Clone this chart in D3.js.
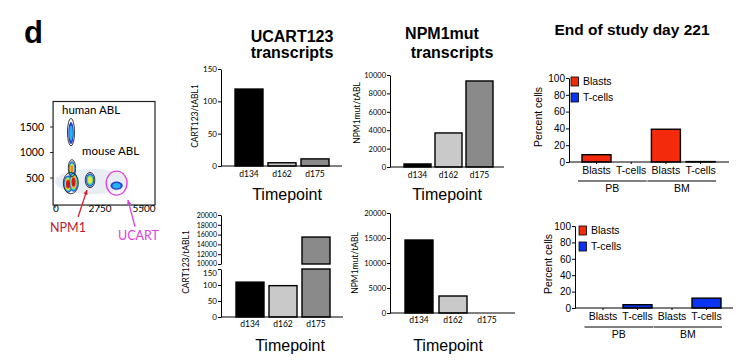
<!DOCTYPE html>
<html>
<head>
<meta charset="utf-8">
<script src="https://cdn.jsdelivr.net/npm/d3@7"></script>
<style>
    body { margin: 0; background: #fff; }
    svg text { font-family: "Liberation Sans", Arial, sans-serif; fill: #000; }
    svg .gill { font-family: Lato, "DejaVu Sans", sans-serif; }
    .axis path, .axis line { stroke: #000; }
</style>
</head>
<body>
<svg id="fig" width="744" height="361"></svg>
<script>
// ---- data ----
const timepoints = ["d134", "d162", "d175"];
const tpColors = ["#000000", "#c9c9c9", "#8a8a8a"];
const ucartTop = [119, 5, 11];
const npm1Top = [330, 3700, 9350];
const ucartBottom = [109, 98, 15500];
const npm1Bottom = [14600, 3400, 0];

const cellGroups = ["PB", "BM"];
const cellTypes = ["Blasts", "T-cells"];
const cellColors = ["#f42a0c", "#0b34f2"];
const day221A = [8.7, 0, 39, 0.5];
const day221B = [0, 4, 0, 12];

const flowXTicks = [0, 2750, 5500];
const flowYTicks = [500, 1000, 1500];
// cluster centres and spreads in data units, level = how far up the heat map
const flowClusters = [
    { x: 1000, y: 1380, sx: 170, sy: 220, level: 2 },
    { x: 1060, y: 680, sx: 200, sy: 150, level: 5 },
    { x: 820, y: 380, sx: 280, sy: 170, level: 6 },
    { x: 1160, y: 420, sx: 260, sy: 190, level: 6 },
    { x: 2190, y: 460, sx: 260, sy: 130, level: 4 },
    { x: 3850, y: 350, sx: 380, sy: 80, level: 2 }
];
const flowGates = [
    { x: 1000, y: 1400, rx: 220, ry: 270, color: "#222" },
    { x: 1060, y: 690, rx: 230, ry: 170, color: "#222" },
    { x: 990, y: 400, rx: 470, ry: 210, color: "#222" },
    { x: 2190, y: 460, rx: 300, ry: 150, color: "#222" },
    { x: 3850, y: 400, rx: 650, ry: 235, color: "#e040e0" }
];

const svg = d3.select("#fig");
svg.append("rect").attr("width", 744).attr("height", 361).attr("fill", "#fff");

// band scale from first bar start, step and bar width
function bandScale(domain, firstStart, step, width) {
    let pi = 1 - width / step;
    let po = 0.5;
    let r0 = firstStart - po * step;
    let r1 = r0 + step * (domain.length - pi + 2 * po);
    return d3.scaleBand().domain(domain).range([r0, r1]).paddingInner(pi).paddingOuter(po);
}

function yAxis(x0, yScale, ticks, cls, size) {
    let g = svg.append("g")
        .attr("class", "axis")
        .attr("transform", "translate(" + x0 + ",0)")
        .call(d3.axisLeft(yScale).tickValues(ticks).tickFormat(d3.format("d"))
            .tickSize(3).tickSizeOuter(0).tickPadding(1));
    g.selectAll("text").attr("class", cls).style("font-size", size + "px").attr("fill", "#000");
    return g;
}

function xLabels(y0, xScale, cls, size, pad, tickSize) {
    let g = svg.append("g")
        .attr("class", "axis")
        .attr("transform", "translate(0," + y0 + ")")
        .call(d3.axisBottom(xScale).tickSize(tickSize).tickPadding(pad));
    g.select(".domain").remove();
    g.selectAll("text").attr("class", cls).style("font-size", size + "px").attr("fill", "#000");
    return g;
}

function xLine(x0, x1, y0) {
    svg.append("line").attr("x1", x0).attr("x2", x1).attr("y1", y0).attr("y2", y0)
        .attr("stroke", "#000").attr("stroke-width", 1);
}

function bars(xScale, yScale, values, colors) {
    svg.append("g").selectAll("rect")
        .data(values)
        .join("rect")
        .attr("x", (d, i) => xScale(xScale.domain()[i]))
        .attr("width", xScale.bandwidth())
        .attr("y", d => yScale(d))
        .attr("height", d => yScale(0) - yScale(d))
        .attr("fill", (d, i) => colors[i])
        .attr("stroke", "#000")
        .attr("stroke-width", d => d > 0 ? 1.4 : 0.8);
}

function yTitle(text, x, y, cls, size) {
    svg.append("text")
        .attr("class", cls)
        .attr("transform", "translate(" + x + "," + y + ") rotate(-90)")
        .attr("text-anchor", "middle")
        .attr("dy", "0.35em")
        .style("font-size", size + "px")
        .text(text);
}

function label(text, x, y, size, weight, anchor) {
    return svg.append("text")
        .attr("x", x).attr("y", y)
        .attr("text-anchor", anchor || "middle")
        .style("font-size", size + "px")
        .style("font-weight", weight || "normal")
        .text(text);
}

// ---- panel letter ----
label("d", 24, 43, 31, "bold", "start");

// ---- titles ----
label("UCART123", 292, 42, 16, "bold");
label("transcripts", 292, 58, 16, "bold");
label("NPM1mut", 442, 39, 16, "bold");
label("transcripts", 452, 58, 16, "bold");
label("End of study day 221", 632, 35, 15.5, "bold");

// ---- UCART123 top ----
let xB1 = bandScale(timepoints, 235, 33, 28);
let yB1 = d3.scaleLinear().domain([0, 150]).range([166, 69]);
bars(xB1, yB1, ucartTop, tpColors);
yAxis(221, yB1, [0, 50, 100, 150], "gill", 8);
xLine(221, 342, 166);
xLabels(166, xB1, "gill", 8.5, 4.5, 0);
yTitle("CART123/tABL1", 195, 116, "gill", 8.5);
label("Timepoint", 287, 200, 16);

// ---- NPM1mut top ----
let xB2 = bandScale(timepoints, 404, 31, 27);
let yB2 = d3.scaleLinear().domain([0, 10000]).range([167, 75]);
bars(xB2, yB2, npm1Top, tpColors);
yAxis(390, yB2, d3.range(0, 10001, 2000), "gill", 7.5);
xLine(390, 504, 167);
xLabels(167, xB2, "gill", 8.5, 4.5, 0);
yTitle("NPM1mut/tABL", 357, 113, "gill", 8.5);
label("Timepoint", 447, 200, 16);

// ---- UCART123 bottom (broken axis) ----
let xB3 = bandScale(timepoints, 236, 33, 28);
let yB3low = d3.scaleLinear().domain([0, 150]).range([317, 269]);
let yB3up = d3.scaleLinear().domain([10000, 20000]).range([264, 215]);
let lowVals = ucartBottom.map(v => Math.min(v, 150));
bars(xB3, yB3low, lowVals, tpColors);
svg.append("g").selectAll("rect")
    .data(ucartBottom.map((v, i) => ({ v: v, i: i })).filter(d => d.v > 10000))
    .join("rect")
    .attr("x", d => xB3(timepoints[d.i]))
    .attr("width", xB3.bandwidth())
    .attr("y", d => yB3up(d.v))
    .attr("height", d => yB3up(10000) - yB3up(d.v))
    .attr("fill", d => tpColors[d.i])
    .attr("stroke", "#000")
    .attr("stroke-width", 1.4);
let lowAx = yAxis(221, yB3low, [0, 50, 100, 150], "gill", 8);
lowAx.selectAll("text").filter(d => d === 150).attr("dy", "0.75em");
let upAx = yAxis(221, yB3up, d3.range(10000, 20001, 2000), "gill", 7);
upAx.selectAll("text").filter(d => d === 10000).attr("dy", "0.15em");
xLine(221, 343, 317);
xLabels(317, xB3, "gill", 8.5, 4, 0);
yTitle("CART123/tABL1", 186, 262, "gill", 8.5);
label("Timepoint", 290, 351, 16);

// ---- NPM1mut bottom ----
let xB4 = bandScale(timepoints, 405, 34, 28);
let yB4 = d3.scaleLinear().domain([0, 20000]).range([313, 213]);
bars(xB4, yB4, npm1Bottom, tpColors);
yAxis(390, yB4, d3.range(0, 20001, 5000), "gill", 7.5);
xLine(390, 515, 313);
xLabels(313, xB4, "gill", 8.5, 4, 0);
yTitle("NPM1mut/tABL", 355, 263, "gill", 8.5);
label("Timepoint", 448, 351, 16);

// ---- end of study panels ----
const cellKeys = [];
cellGroups.forEach(g => cellTypes.forEach(t => cellKeys.push(g + "|" + t)));
const cellBarColors = cellKeys.map(k => cellColors[cellTypes.indexOf(k.split("|")[1])]);

function cellPanel(values, xScale, yScale, x0, xEnd, legendX, legendY, titleX) {
    let y0 = yScale(0);
    bars(xScale, yScale, values, cellBarColors);
    yAxis(x0, yScale, d3.range(0, 101, 20), "", 10);
    xLine(x0, xEnd, y0);
    let g = xLabels(y0, xScale, "", 10.5, 3, 2);
    g.selectAll("text").text(d => d.split("|")[1]);

    // group underlines and labels
    cellGroups.forEach(grp => {
        let a = xScale(grp + "|" + cellTypes[0]) - 4;
        let b = xScale(grp + "|" + cellTypes[cellTypes.length - 1]) + xScale.bandwidth() + 1;
        svg.append("line").attr("x1", a).attr("x2", b).attr("y1", y0 + 19).attr("y2", y0 + 19)
            .attr("stroke", "#000").attr("stroke-width", 1);
        label(grp, (a + b) / 2, y0 + 30, 10.5);
    });

    // legend
    cellTypes.forEach((t, i) => {
        svg.append("rect")
            .attr("x", legendX).attr("y", legendY + i * 16)
            .attr("width", 7.5).attr("height", 9)
            .attr("fill", cellColors[i]).attr("stroke", "#000").attr("stroke-width", 0.8);
        label(t, legendX + 12, legendY + i * 16 + 8, 10.5, "normal", "start");
    });

    yTitle("Percent cells", titleX, (yScale(0) + yScale(100)) / 2 - 3, "", 10.5);
}

let xC1 = bandScale(cellKeys, 582, 34.7, 29);
let yC1 = d3.scaleLinear().domain([0, 100]).range([162, 78]);
cellPanel(day221A, xC1, yC1, 569, 729, 571, 77, 538);

let xC2 = bandScale(cellKeys, 588.5, 34.5, 29);
let yC2 = d3.scaleLinear().domain([0, 100]).range([308, 226]);
cellPanel(day221B, xC2, yC2, 575, 733, 579, 226, 548);

// ---- flow cytometry plot ----
let fx = d3.scaleLinear().domain([0, 5500]).range([55, 143]);
let fy = d3.scaleLinear().domain([0, 1500]).range([203.5, 127]);
const jet = ["#2a3fd0", "#23b4ee", "#5fdc7a", "#f2e634", "#f7861c", "#d8141a"];

let defs = svg.append("defs");
defs.append("filter").attr("id", "soft")
    .append("feGaussianBlur").attr("stdDeviation", 0.6);

let plot = svg.append("g");
plot.append("rect")
    .attr("x", fx(-120)).attr("y", fy(2000))
    .attr("width", fx(6250) - fx(-120)).attr("height", fy(-30) - fy(2000))
    .attr("fill", "none").attr("stroke", "#222").attr("stroke-width", 1.2);

// faint scatter halo
plot.append("ellipse")
    .attr("cx", fx(2300)).attr("cy", fy(430))
    .attr("rx", fx(4600) - fx(2300)).attr("ry", fy(0) - fy(250))
    .attr("fill", "#d9dfeb").attr("opacity", 0.6);

let dens = plot.append("g").attr("filter", "url(#soft)");
flowClusters.forEach(c => {
    d3.range(c.level).forEach(k => {
        let s = 1 - k / c.level * 0.65;
        dens.append("ellipse")
            .attr("cx", fx(c.x)).attr("cy", fy(c.y))
            .attr("rx", (fx(c.x + c.sx) - fx(c.x)) * s)
            .attr("ry", (fy(c.y) - fy(c.y + c.sy)) * s)
            .attr("fill", jet[k]);
    });
});

plot.selectAll(".gate")
    .data(flowGates)
    .join("ellipse")
    .attr("class", "gate")
    .attr("cx", d => fx(d.x)).attr("cy", d => fy(d.y))
    .attr("rx", d => fx(d.x + d.rx) - fx(d.x))
    .attr("ry", d => fy(d.y) - fy(d.y + d.ry))
    .attr("fill", "none")
    .attr("stroke", d => d.color)
    .attr("stroke-width", d => d.color === "#222" ? 0.9 : 1.3);

// flow ticks
plot.selectAll(".fyt")
    .data(flowYTicks)
    .join("text")
    .attr("class", "gill")
    .attr("x", 44).attr("y", d => fy(d))
    .attr("dy", "0.35em")
    .attr("text-anchor", "end")
    .style("font-size", "10.5px")
    .text(d => d);
plot.selectAll(".fytl")
    .data(flowYTicks)
    .join("line")
    .attr("x1", fx(-120) - 3).attr("x2", fx(-120))
    .attr("y1", d => fy(d)).attr("y2", d => fy(d))
    .attr("stroke", "#222");
plot.selectAll(".fxt")
    .data(flowXTicks)
    .join("text")
    .attr("class", "gill")
    .attr("x", d => fx(d) + 1).attr("y", 212)
    .attr("text-anchor", "middle")
    .style("font-size", "10px")
    .text(d => d);
plot.selectAll(".fxtl")
    .data(flowXTicks)
    .join("line")
    .attr("x1", d => fx(d)).attr("x2", d => fx(d))
    .attr("y1", fy(-30)).attr("y2", fy(-30) + 3)
    .attr("stroke", "#222");

svg.append("text").attr("class", "gill").attr("x", 62).attr("y", 114)
    .style("font-size", "11.5px").text("human ABL");
svg.append("text").attr("class", "gill").attr("x", 82).attr("y", 155)
    .style("font-size", "11.5px").text("mouse ABL");
svg.append("text").attr("class", "gill").attr("x", 50).attr("y", 232)
    .style("font-size", "12.5px").style("fill", "#c0182c").text("NPM1");
svg.append("text").attr("class", "gill").attr("x", 118).attr("y", 240)
    .style("font-size", "12.5px").style("fill", "#e03ce0").text("UCART");

// arrows
function arrow(x1, y1, x2, y2, color) {
    let ang = Math.atan2(y2 - y1, x2 - x1);
    svg.append("line").attr("x1", x1).attr("y1", y1).attr("x2", x2).attr("y2", y2)
        .attr("stroke", color).attr("stroke-width", 1.3);
    let h = 5;
    let p = [[x2, y2],
        [x2 - h * Math.cos(ang - 0.45), y2 - h * Math.sin(ang - 0.45)],
        [x2 - h * Math.cos(ang + 0.45), y2 - h * Math.sin(ang + 0.45)]];
    svg.append("path").attr("d", d3.line()(p) + "Z").attr("fill", color);
}
arrow(fx(1440), fy(-265), fx(2000), fy(265), "#d8202c");
arrow(fx(5000), fy(-460), fx(4560), fy(70), "#e03ce0");
</script>
</body>
</html>
